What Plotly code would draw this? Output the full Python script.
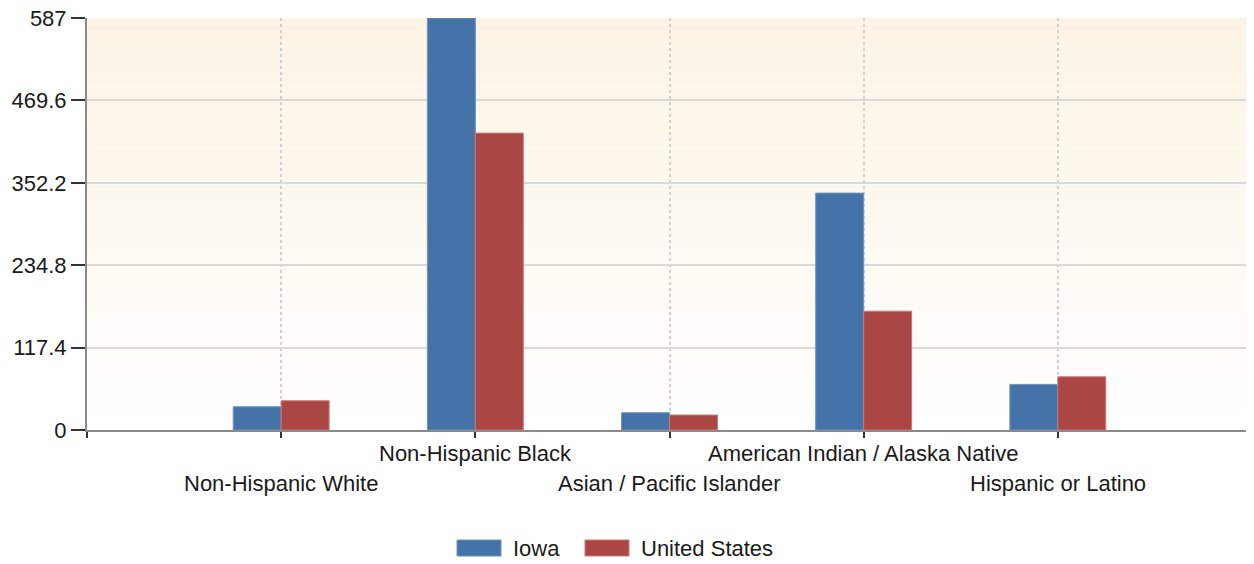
import plotly.graph_objects as go

categories = ["Non-Hispanic White", "Non-Hispanic Black", "Asian / Pacific Islander",
              "American Indian / Alaska Native", "Hispanic or Latino"]
iowa = [33.1, 587, 24.6, 337.5, 65]
us = [41.7, 423, 21.3, 169.3, 75.8]
y_ticks = [0, 117.4, 234.8, 352.2, 469.6, 587]
y_tick_text = ["0", "117.4", "234.8", "352.2", "469.6", "587"]
series_names = ["Iowa", "United States"]
series_colors = ["#4572A7", "#AA4643"]
series_edges = ["#6f92c0", "#c97a77"]

positions = list(range(1, len(categories) + 1))
FONT = "Liberation Sans, Arial, sans-serif"
TXT = "#1a1a1a"
FS = 22

W, H = 1246, 556  # page body has an 8px margin
L, R, T, B = 79, 2, 10, 134
PW, PH = W - L - R, H - T - B


def px_to_paper_x(px):  # page pixel -> paper fraction
    return (px - 8 - L) / PW


def px_to_paper_y(py):
    return (H - B - (py - 8)) / PH


fig = go.Figure()
for name, vals, col, edge in zip(series_names, [iowa, us], series_colors, series_edges):
    fig.add_trace(go.Bar(name=name, x=positions, y=vals, showlegend=False,
                         marker=dict(color=col, line=dict(color=edge, width=1))))

# gradient background bands
n = 60
top = (252, 243, 228)
bot = (255, 255, 255)
shapes = []
for i in range(n):
    t = i / (n - 1)
    c = tuple(round(bot[k] + (top[k] - bot[k]) * t) for k in range(3))
    shapes.append(dict(type="rect", xref="paper", yref="paper", x0=0, x1=1,
                       y0=i / n, y1=(i + 1) / n, line=dict(width=0),
                       fillcolor="rgb(%d,%d,%d)" % c, layer="below"))

annotations = []
for i, cat in enumerate(categories):
    annotations.append(dict(x=positions[i], y=0, xref="x", yref="paper", text=cat,
                            showarrow=False, yanchor="middle",
                            yshift=-23 if i % 2 == 1 else -53,
                            font=dict(family=FONT, size=FS, color=TXT)))

# custom legend (wide swatches like the reference)
legend_swatch_x = [457, 585]
legend_text_x = [511, 639]
for sx, tx, name, col, edge in zip(legend_swatch_x, legend_text_x, series_names,
                                   series_colors, series_edges):
    shapes.append(dict(type="rect", xref="paper", yref="paper",
                       x0=px_to_paper_x(sx), x1=px_to_paper_x(sx + 44),
                       y0=px_to_paper_y(556), y1=px_to_paper_y(540),
                       fillcolor=col, line=dict(color=edge, width=1)))
    annotations.append(dict(x=px_to_paper_x(tx), y=px_to_paper_y(548), xref="paper",
                            yref="paper", text=name, showarrow=False,
                            xanchor="left", yanchor="middle",
                            font=dict(family=FONT, size=FS, color=TXT)))

fig.update_layout(
    width=W, height=H,
    margin=dict(l=L, r=R, t=T, b=B),
    paper_bgcolor="white", plot_bgcolor="white",
    barmode="group", bargap=0.506, bargroupgap=0,
    shapes=shapes, annotations=annotations,
    font=dict(family=FONT, size=FS, color=TXT),
    showlegend=False,
    xaxis=dict(range=[0, 6], tickvals=[0, 1, 2, 3, 4, 5, 6], ticktext=[""] * 7,
               showgrid=True, gridcolor="#d0d0d0", griddash="dot", gridwidth=1.5,
               ticks="outside", ticklen=6, tickwidth=2, tickcolor="#333",
               showline=True, linecolor="#8a8a8a", linewidth=2, zeroline=False,
               automargin=False),
    yaxis=dict(range=[0, 587], tickvals=y_ticks, ticktext=y_tick_text,
               showgrid=True, gridcolor="#d9d9d9", gridwidth=2,
               ticks="outside", ticklen=14, tickwidth=2, tickcolor="#333",
               showline=True, linecolor="#8a8a8a", linewidth=2, zeroline=False,
               ticklabeloverflow="allow", automargin=False,
               tickfont=dict(family=FONT, size=FS, color=TXT)),
)

fig.write_html("out.html")
